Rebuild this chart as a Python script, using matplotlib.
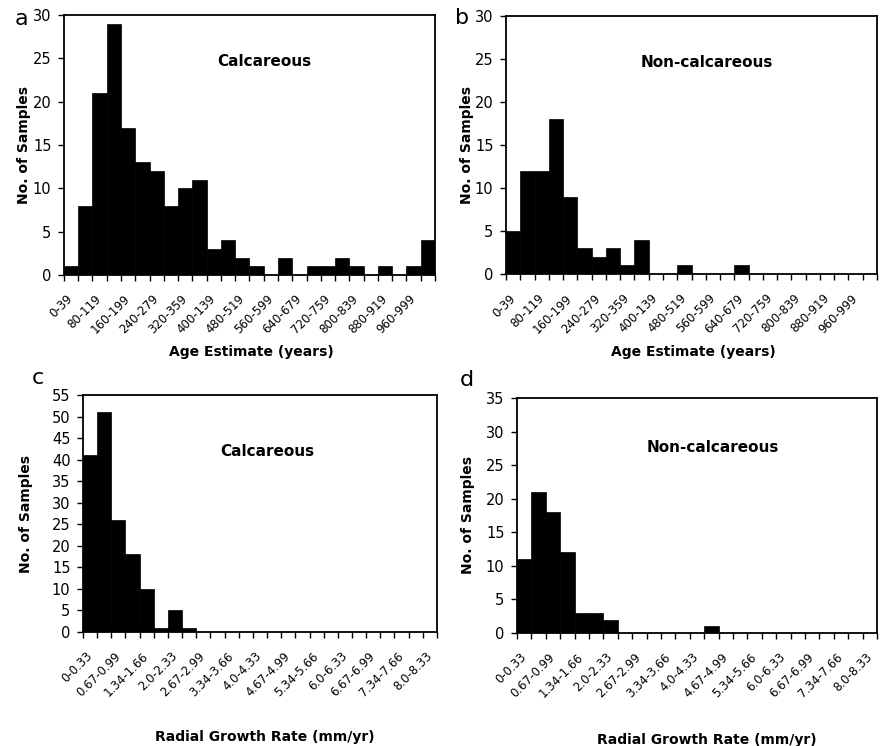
import numpy as np
from matplotlib import pyplot as plt
from matplotlib import transforms

# categorias de idade (40 anos por classe)
age_bins = ["0-39", "40-79", "80-119", "120-159", "160-199", "200-239", "240-279",
            "280-319", "320-359", "360-399", "400-139", "440-479", "480-519",
            "520-559", "560-599", "600-639", "640-679", "680-719", "720-759",
            "760-799", "800-839", "840-879", "880-919", "920-959", "960-999", ">1000"]
calc_age = [1, 8, 21, 29, 17, 13, 12, 8, 10, 11, 3, 4, 2, 1, 0, 2, 0, 1, 1, 2, 1, 0, 1, 0, 1, 4]
noncalc_age = [5, 12, 12, 18, 9, 3, 2, 3, 1, 4, 0, 0, 1, 0, 0, 0, 1, 0, 0, 0, 0, 0, 0, 0, 0, 0]

# categorias de taxa de crescimento radial
rate_bins = ["0-0.33", "0.34-0.66", "0.67-0.99", "1.0-1.33", "1.34-1.66", "1.67-1.99",
             "2.0-2.33", "2.34-2.66", "2.67-2.99", "3.0-3.33", "3.34-3.66", "3.67-3.99",
             "4.0-4.33", "4.34-4.66", "4.67-4.99", "5.0-5.33", "5.34-5.66", "5.67-5.99",
             "6.0-6.33", "6.34-6.66", "6.67-6.99", "7.0-7.33", "7.34-7.66", "7.67-7.99",
             "8.0-8.33"]
calc_rate = [41, 51, 26, 18, 10, 1, 5, 1, 0, 0, 0, 0, 0, 0, 0, 0, 0, 0, 0, 0, 0, 0, 0, 0, 0]
noncalc_rate = [11, 21, 18, 12, 3, 3, 2, 0, 0, 0, 0, 0, 0, 1, 0, 0, 0, 0, 0, 0, 0, 0, 0, 0, 0]

plt.rcParams['font.family'] = 'DejaVu Sans'

fig = plt.figure(figsize=(8.81, 7.46), dpi=100)
desloc = transforms.ScaledTranslation(-3 / 72, 0, fig.dpi_scale_trans)


def histograma(rect, cats, vals, ymax, title, tpos, xlabel, xl_pos, yl_x, letter, lpos):
    ax = fig.add_axes(rect)
    n = len(cats)
    x = np.arange(n)
    ax.bar(x, vals, width=1.0, color="black", edgecolor="black", linewidth=0.5)
    ax.set_xlim(-0.5, n - 0.5)
    ax.set_ylim(0, ymax)
    ax.set_yticks(np.arange(0, ymax + 1, 5))
    # rotulos so em categorias pares, marcas nas fronteiras
    ax.set_xticks(x[::2])
    ax.set_xticklabels(cats[::2], rotation=45, ha="right", va="center",
                       rotation_mode="anchor", fontsize=8.5)
    for lb in ax.get_xticklabels():
        lb.set_transform(lb.get_transform() + desloc)
    ax.set_xticks(np.arange(n + 1) - 0.5, minor=True)
    ax.tick_params(axis="x", which="major", length=0, pad=16)
    ax.tick_params(axis="x", which="minor", length=4, width=1, direction="out")
    ax.tick_params(axis="y", length=4, width=1, labelsize=10.5, pad=5)
    for s in ax.spines.values():
        s.set_linewidth(1.3)
    ax.set_ylabel("No. of Samples", fontsize=10, fontweight="bold")
    ax.yaxis.set_label_coords(yl_x, 0.5)
    ax.set_xlabel(xlabel, fontsize=10, fontweight="bold")
    ax.xaxis.set_label_coords(xl_pos[0], xl_pos[1])
    ax.text(tpos[0], tpos[1], title, transform=ax.transAxes, ha="center",
            va="center", fontsize=11, fontweight="bold")
    fig.text(lpos[0], lpos[1], letter, fontsize=16, ha="center", va="center")
    return ax


histograma([0.0726, 0.6314, 0.4211, 0.3485], age_bins, calc_age, 30, "Calcareous",
           (0.54, 0.82), "Age Estimate (years)", (0.505, -0.269), -0.09, "a",
           (21 / 881, 1 - 19 / 746))
histograma([0.5744, 0.6327, 0.4211, 0.3458], age_bins, noncalc_age, 30, "Non-calcareous",
           (0.54, 0.82), "Age Estimate (years)", (0.505, -0.275), -0.086, "b",
           (462 / 881, 1 - 18 / 746))
histograma([0.0942, 0.1528, 0.4018, 0.3177], rate_bins, calc_rate, 55, "Calcareous",
           (0.52, 0.76), "Radial Growth Rate (mm/yr)", (0.514, -0.414), -0.14, "c",
           (38 / 881, 1 - 378 / 746))
histograma([0.5868, 0.1515, 0.4086, 0.315], rate_bins, noncalc_rate, 35, "Non-calcareous",
           (0.545, 0.79), "Radial Growth Rate (mm/yr)", (0.528, -0.426), -0.117, "d",
           (467 / 881, 1 - 380 / 746))

fig.savefig("out.png", dpi=100)
